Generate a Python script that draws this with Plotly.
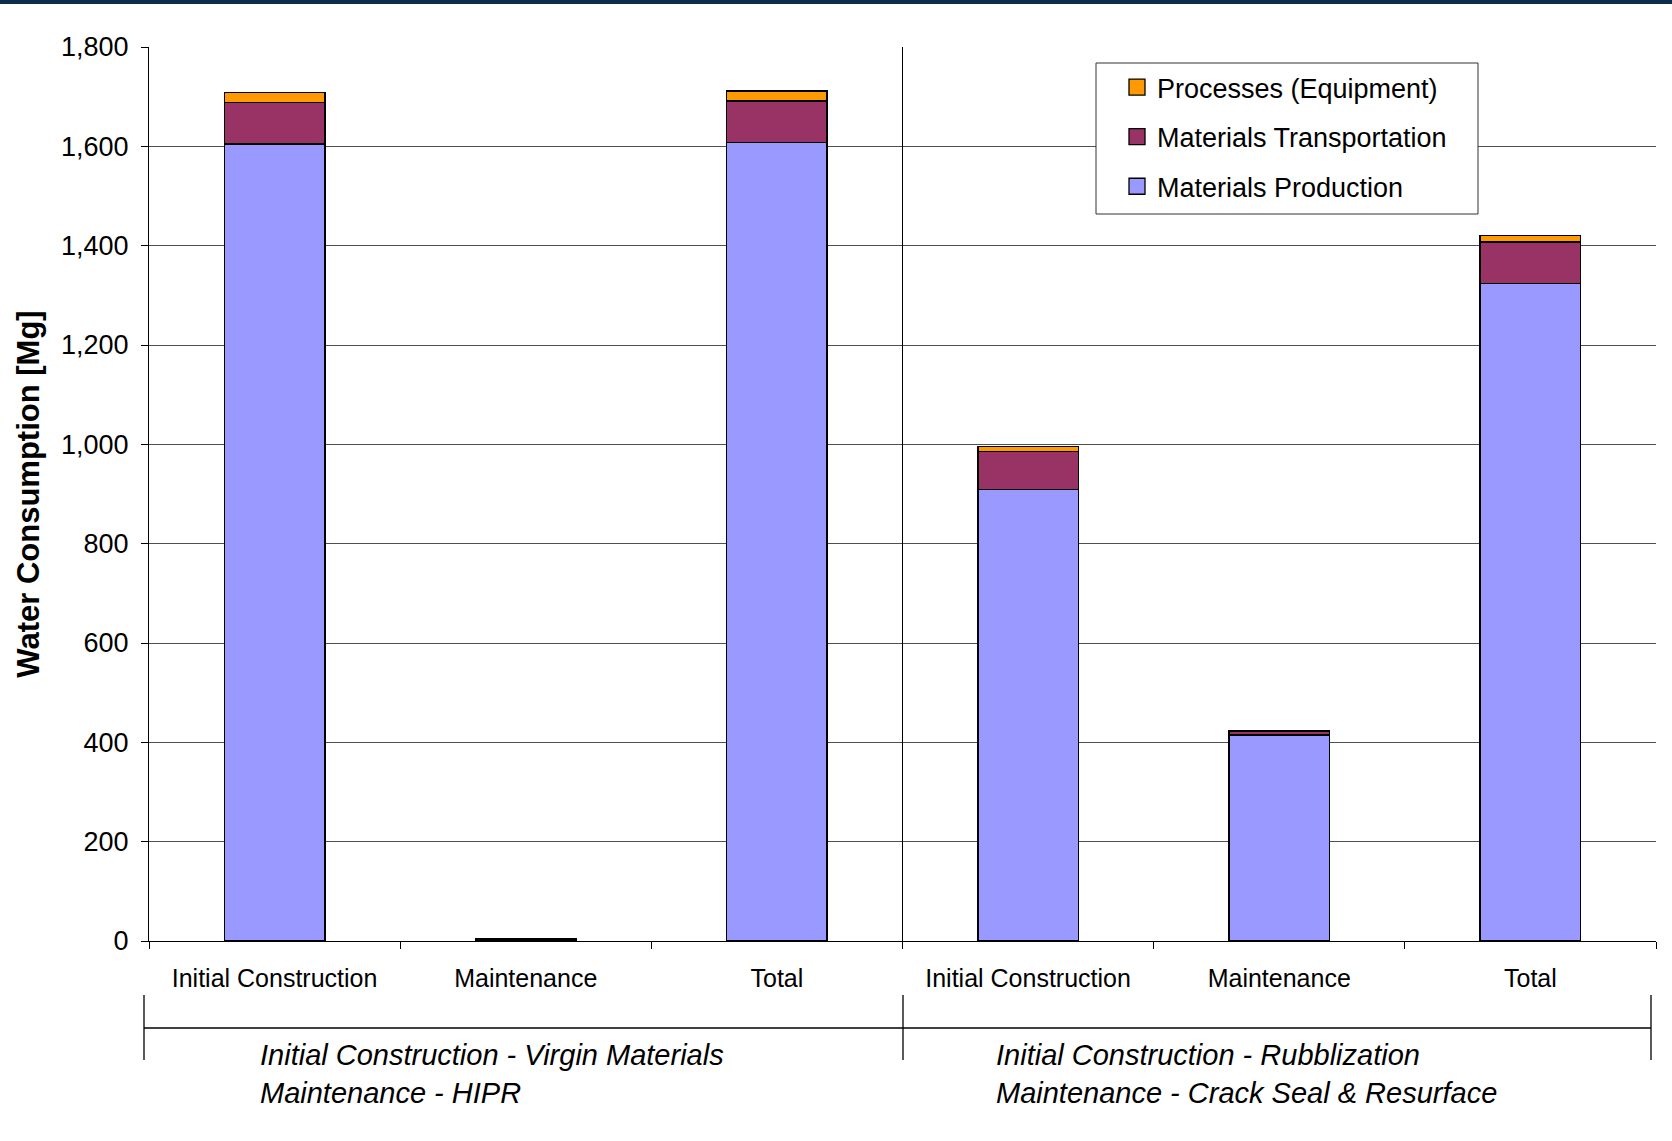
import plotly.graph_objects as go

# ---- data ----
categories = ["Initial Construction", "Maintenance", "Total",
              "Initial Construction", "Maintenance", "Total"]
materials_production = [1605, 3, 1608, 909, 415, 1324]
materials_transportation = [83, 0.5, 83.5, 76, 7, 83]
processes_equipment = [20, 0.3, 20.3, 11, 2, 13]
group_labels = ["<i>Initial Construction - Virgin Materials<br>Maintenance - HIPR</i>",
                "<i>Initial Construction - Rubblization<br>Maintenance - Crack Seal &amp; Resurface</i>"]
group_label_x = [-0.066, 2.864]
y_ticks = [0, 200, 400, 600, 800, 1000, 1200, 1400, 1600, 1800]

FONT = "Liberation Sans, Arial, sans-serif"
W, H = 1672, 1141
ML, MR, MT, MB = 149, 16, 47, 200
PW = W - ML - MR
PH = H - MT - MB

x = list(range(len(categories)))
boundaries = [i - 0.5 for i in range(len(categories) + 1)]

fig = go.Figure()
series = [
    ("Materials Production", materials_production, "#9999FF", 3),
    ("Materials Transportation", materials_transportation, "#993366", 2),
    ("Processes (Equipment)", processes_equipment, "#FF9900", 1),
]
for name, vals, col, rank in series:
    fig.add_trace(go.Bar(
        x=x, y=vals, name=name, width=0.4,
        marker=dict(color=col, line=dict(color="black", width=1.4)),
        legendgroup=name, showlegend=False,
    ))
# legend entries (square swatches matching the bar colours)
for name, vals, col, rank in series:
    fig.add_trace(go.Scatter(
        x=[None], y=[None], name=name, mode="markers",
        marker=dict(symbol="square", size=16, color=col,
                    line=dict(color="black", width=1.3)),
        legendgroup=name, legendrank=rank, showlegend=True, hoverinfo="skip",
    ))

# invisible trace to carry category labels on overlay axis
fig.add_trace(go.Scatter(x=x, y=[0]*len(x), xaxis="x2", mode="markers",
                         marker=dict(opacity=0), showlegend=False, hoverinfo="skip"))

fig.update_layout(
    width=W, height=H,
    margin=dict(l=ML, r=MR, t=MT, b=MB, autoexpand=False),
    paper_bgcolor="white", plot_bgcolor="white",
    barmode="stack",
    font=dict(family=FONT, color="black", size=25),
    showlegend=True,
    legend=dict(
        x=(1117 - ML) / PW, y=1 - (63 - MT) / PH,
        xanchor="left", yanchor="top",
        traceorder="grouped", tracegroupgap=11.5,
        itemsizing="trace",
        font=dict(size=27, family=FONT, color="black"),
        bgcolor="rgba(0,0,0,0)", borderwidth=0,
    ),
    xaxis=dict(
        range=[-0.5, 5.5], tickmode="array", tickvals=boundaries,
        showticklabels=False, ticks="outside", ticklen=7, tickcolor="black",
        showline=True, linecolor="black", linewidth=1,
        showgrid=False, zeroline=False,
    ),
    xaxis2=dict(
        overlaying="x", range=[-0.5, 5.5], side="bottom",
        tickmode="array", tickvals=x, ticktext=categories,
        ticks="", showline=False, showgrid=False, zeroline=False,
        tickfont=dict(size=25, family=FONT, color="black"),
        ticklabelstandoff=20,
    ),
    yaxis=dict(
        range=[0, 1800], tickmode="array", tickvals=y_ticks,
        tickformat=",", ticks="outside", ticklen=7, tickcolor="black",
        tickfont=dict(size=27, family=FONT, color="black"),
        ticklabelstandoff=7,
        showline=True, linecolor="black", linewidth=1,
        showgrid=True, gridcolor="#505050", gridwidth=1,
        zeroline=False,
        title=dict(text="<b>Water Consumption [Mg]</b>",
                   font=dict(size=31, family=FONT, color="black"),
                   standoff=12),
        automargin=False,
    ),
)

def px_to_py(py):
    return 1 - (py - MT) / PH

def px_to_px(pxv):
    return (pxv - ML) / PW

shapes = []
# divider between groups inside plot
shapes.append(dict(type="line", xref="x", yref="paper", x0=2.5, x1=2.5, y0=0, y1=1,
                   line=dict(color="black", width=1)))
# bracket below axis
yb0, yb1, ybh = px_to_py(995), px_to_py(1060), px_to_py(1028)
for xv in [px_to_px(144), px_to_px(903), px_to_px(1651)]:
    shapes.append(dict(type="line", xref="paper", yref="paper", x0=xv, x1=xv, y0=yb0, y1=yb1,
                       line=dict(color="black", width=1.3)))
shapes.append(dict(type="line", xref="paper", yref="paper", x0=px_to_px(144), x1=px_to_px(1651),
                   y0=ybh, y1=ybh, line=dict(color="black", width=1.3)))
# legend box
shapes.append(dict(type="rect", xref="paper", yref="paper",
                   x0=px_to_px(1096), x1=px_to_px(1478),
                   y0=px_to_py(214), y1=px_to_py(63),
                   fillcolor="white", line=dict(color="#333333", width=1), layer="above"))
# top dark band
shapes.append(dict(type="rect", xref="paper", yref="paper",
                   x0=px_to_px(0), x1=px_to_px(W),
                   y0=px_to_py(4), y1=px_to_py(0),
                   fillcolor="#0b2e4c", line=dict(width=0), layer="above"))
fig.update_layout(shapes=shapes)

# group annotations
for gx, txt in zip(group_label_x, group_labels):
    fig.add_annotation(
        x=gx, xref="x", xanchor="left",
        y=px_to_py(1037), yref="paper", yanchor="top",
        text=txt, showarrow=False, align="left",
        font=dict(size=29, family=FONT, color="black"),
    )

fig.write_html("out.html")
